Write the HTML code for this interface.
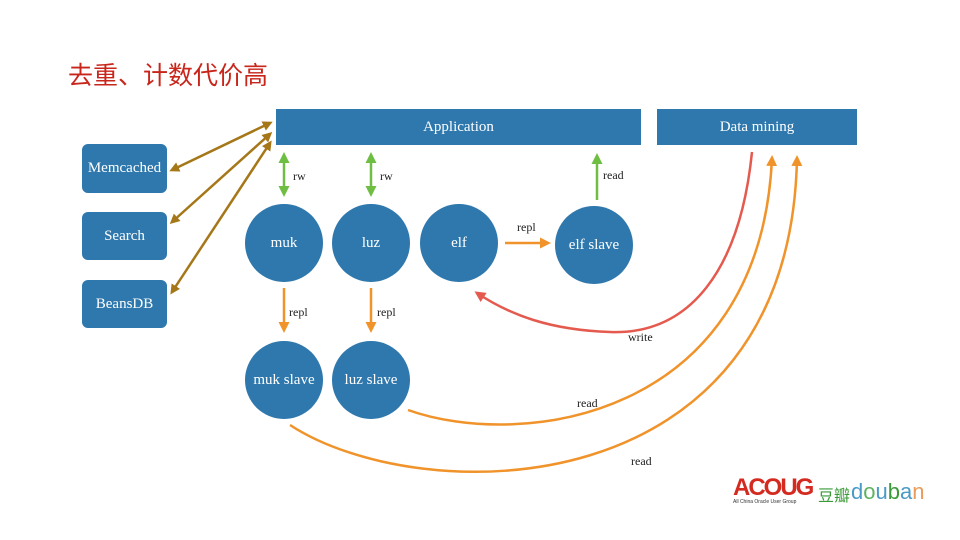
<!DOCTYPE html>
<html><head><meta charset="utf-8"><style>
body{margin:0;width:960px;height:540px;background:#fff;overflow:hidden;position:relative;font-family:"Liberation Serif","Noto Serif CJK SC",serif}
.t{position:absolute;left:68px;top:56px;font-size:25px;color:#c8261b;font-family:"Liberation Sans","Noto Sans CJK SC",sans-serif}
.r{position:absolute;background:#2e78ad;color:#fff;display:flex;align-items:center;justify-content:center;font-size:15px}
.c{position:absolute;width:78px;height:78px;border-radius:50%;background:#2e78ad;color:#fff;display:flex;align-items:center;justify-content:center;font-size:15px}
.l{position:absolute;font-size:12px;color:#222}
</style></head><body>
<div class="t">去重、计数代价高</div>
<div class="r" style="left:276px;top:109px;width:365px;height:36px">Application</div>
<div class="r" style="left:657px;top:109px;width:200px;height:36px">Data mining</div>
<div class="r" style="left:82px;top:144px;width:85px;height:49px;border-radius:6px">Memcached</div>
<div class="r" style="left:82px;top:212px;width:85px;height:48px;border-radius:6px">Search</div>
<div class="r" style="left:82px;top:280px;width:85px;height:48px;border-radius:6px">BeansDB</div>
<div class="c" style="left:245px;top:204px">muk</div>
<div class="c" style="left:332px;top:204px">luz</div>
<div class="c" style="left:420px;top:204px">elf</div>
<div class="c" style="left:555px;top:206px">elf slave</div>
<div class="c" style="left:245px;top:341px">muk slave</div>
<div class="c" style="left:332px;top:341px">luz slave</div>
<svg width="960" height="540" style="position:absolute;left:0;top:0">
<defs>
<marker id="b" markerWidth="10" markerHeight="10" refX="7" refY="5" orient="auto-start-reverse" markerUnits="userSpaceOnUse"><path d="M0,0L10,5L0,10z" fill="#a57718"/></marker>
<marker id="g" markerWidth="11" markerHeight="11" refX="8" refY="5.5" orient="auto-start-reverse" markerUnits="userSpaceOnUse"><path d="M0,0L11,5.5L0,11z" fill="#6fbe44"/></marker>
<marker id="o" markerWidth="11" markerHeight="11" refX="8" refY="5.5" orient="auto-start-reverse" markerUnits="userSpaceOnUse"><path d="M0,0L11,5.5L0,11z" fill="#f0932b"/></marker>
<marker id="rd" markerWidth="11" markerHeight="11" refX="8" refY="5.5" orient="auto-start-reverse" markerUnits="userSpaceOnUse"><path d="M0,0L11,5.5L0,11z" fill="#e55a4e"/></marker>
</defs>
<g stroke="#a57718" stroke-width="2.5" fill="none">
<line x1="172" y1="170" x2="270" y2="123" marker-start="url(#b)" marker-end="url(#b)"/>
<line x1="172" y1="222" x2="270" y2="134" marker-start="url(#b)" marker-end="url(#b)"/>
<line x1="172" y1="292" x2="270" y2="143" marker-start="url(#b)" marker-end="url(#b)"/>
</g>
<g stroke="#6fbe44" stroke-width="2.5">
<line x1="284" y1="155" x2="284" y2="194" marker-start="url(#g)" marker-end="url(#g)"/>
<line x1="371" y1="155" x2="371" y2="194" marker-start="url(#g)" marker-end="url(#g)"/>
<line x1="597" y1="200" x2="597" y2="156" marker-end="url(#g)"/>
</g>
<g stroke="#f0932b" stroke-width="2.5" fill="none">
<line x1="284" y1="288" x2="284" y2="330" marker-end="url(#o)"/>
<line x1="371" y1="288" x2="371" y2="330" marker-end="url(#o)"/>
<line x1="505" y1="243" x2="548" y2="243" marker-end="url(#o)"/>
<path d="M408,410 C520,450 760,420 772,158" marker-end="url(#o)"/>
<path d="M290,425 C420,510 790,510 797,158" marker-end="url(#o)"/>
</g>
<path d="M752,152 C740,270 690,335 610,332 C550,330 510,315 477,293" stroke="#e55a4e" stroke-width="2.5" fill="none" marker-end="url(#rd)"/>
</svg>
<div class="l" style="left:293px;top:169px">rw</div>
<div class="l" style="left:380px;top:169px">rw</div>
<div class="l" style="left:603px;top:168px">read</div>
<div class="l" style="left:517px;top:220px">repl</div>
<div class="l" style="left:289px;top:305px">repl</div>
<div class="l" style="left:377px;top:305px">repl</div>
<div class="l" style="left:628px;top:330px">write</div>
<div class="l" style="left:577px;top:396px">read</div>
<div class="l" style="left:631px;top:454px">read</div>
<div style="position:absolute;left:733px;top:474px;font:bold 24px 'Liberation Sans',sans-serif;color:#d42a20;letter-spacing:-2px">ACOUG</div>
<div style="position:absolute;left:733px;top:499px;font:5px 'Liberation Sans',sans-serif;color:#333">All China Oracle User Group</div>
<div style="position:absolute;left:818px;top:482px;font:16px 'Noto Sans CJK SC',sans-serif;color:#3a9a3a">豆瓣</div>
<div style="position:absolute;left:851px;top:479px;font:22px 'Liberation Sans',sans-serif;color:#4a9ac8">d<span style="color:#5fb25f">o</span>u<span style="color:#3a9a3a">b</span>a<span style="color:#e89b5a">n</span></div>
</body></html>
